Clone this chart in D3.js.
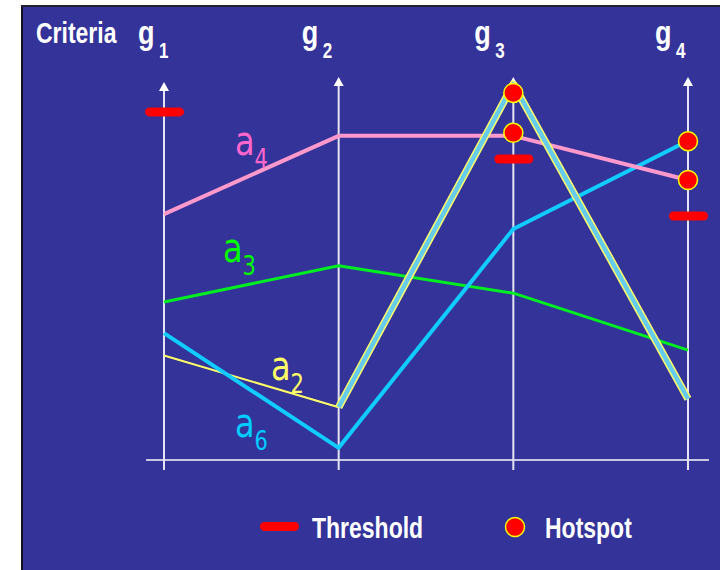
<!DOCTYPE html>
<html>
<head>
<meta charset="utf-8">
<script src="https://cdn.jsdelivr.net/npm/d3@7"></script>
<style>
  html, body { margin: 0; padding: 0; background: #ffffff; }
  svg { display: block; }
</style>
</head>
<body>
<svg id="chart" width="720" height="570"></svg>
<script>
// Criteria (axes) and their subscripts
const criteria = ["g1", "g2", "g3", "g4"];
const criteriaSub = ["1", "2", "3", "4"];

// Scores of each alternative on every criterion (0–100 scale)
const a4 = [64.7, 85.3, 85.3, 73.7];
const a3 = [41.6, 51.1, 43.9, 28.9];
const a2 = [27.5, 13.9, 98.9, 16.1];
const a6 = [33.4, 3.2, 60.8, 84.0];

// Threshold per criterion (null = none)
const thresholds = [91.6, null, 79.2, 64.2];

// Hotspots: criterion and score
const hotspotCrit = ["g3", "g3", "g4", "g4"];
const hotspotVal = [96.6, 86.1, 83.9, 73.7];

const W = 720, H = 570;
const svg = d3.select("#chart");

// panel
svg.append("rect").attr("x", 21).attr("y", 5).attr("width", W - 21).attr("height", H - 5)
  .attr("fill", "#333399");
svg.append("line").attr("x1", 22).attr("x2", 22).attr("y1", 5).attr("y2", H)
  .attr("stroke", "#111122").attr("stroke-width", 2);
svg.append("line").attr("x1", 21).attr("x2", W).attr("y1", 6).attr("y2", 6)
  .attr("stroke", "#222233").attr("stroke-width", 2);

const x = d3.scalePoint().domain(criteria).range([164, 688]);
const y = d3.scaleLinear().domain([0, 100]).range([460, 80]);

// text helper: vertically stretched lettering
function label(g, px, py) {
  return g.append("text").attr("transform", `translate(${px},${py}) scale(1,1.25)`);
}

// Axes: baseline and vertical arrows
const axes = svg.append("g");
axes.append("line")
  .attr("x1", x("g1") - 18).attr("x2", x("g4") + 21)
  .attr("y1", y(0)).attr("y2", y(0))
  .attr("stroke", "#c8c8e0").attr("stroke-width", 2);
axes.selectAll("line.ax").data(criteria).join("line").attr("class", "ax")
  .attr("x1", d => x(d)).attr("x2", d => x(d))
  .attr("y1", (d, i) => (i === 0 ? 90 : 85)).attr("y2", y(0) + 10)
  .attr("stroke", "#e4e4f4").attr("stroke-width", 2);
axes.selectAll("path.arrow").data(criteria).join("path").attr("class", "arrow")
  .attr("d", (d, i) => {
    const tip = i === 0 ? 82 : 77, cx = x(d);
    return `M${cx},${tip} L${cx - 5},${tip + 9} L${cx + 5},${tip + 9} Z`;
  })
  .attr("fill", "#ffffff");

// Header labels
const head = svg.append("g").attr("fill", "#ffffff").attr("font-family", "Liberation Sans, Arial, sans-serif")
  .attr("font-weight", "bold");
label(head, 36, 43).attr("font-size", 23).text("Criteria");
const headNudge = [-26, -37, -39, -33];
criteria.forEach((c, i) => {
  label(head, x(c) + headNudge[i], 44).attr("font-size", 27).text("g");
  label(head, x(c) + headNudge[i] + 21, 58).attr("font-size", 17).text(criteriaSub[i]);
});

// Series lines
const line = d3.line().x(d => x(d.c)).y(d => y(d.v));
const pts = arr => arr.map((v, i) => ({ c: criteria[i], v }));
const lines = svg.append("g").attr("fill", "none").attr("stroke-linejoin", "round");

lines.append("path").datum(pts(a3)).attr("d", line)
  .attr("stroke", "#00ee22").attr("stroke-width", 3);
lines.append("path").datum(pts(a2).slice(0, 2)).attr("d", line)
  .attr("stroke", "#ffff66").attr("stroke-width", 2);
lines.append("path").datum(pts(a6)).attr("d", line)
  .attr("stroke", "#11ccff").attr("stroke-width", 4);
lines.append("path").datum(pts(a4)).attr("d", line)
  .attr("stroke", "#ff99cc").attr("stroke-width", 4);
// a2 beyond g2: outlined stroke
lines.append("path").datum(pts(a2).slice(1)).attr("d", line)
  .attr("stroke", "#ffff66").attr("stroke-width", 7.5);
lines.append("path").datum(pts(a2).slice(1)).attr("d", line)
  .attr("stroke", "#66ccee").attr("stroke-width", 4.5);

// Series labels
const lab = svg.append("g").attr("font-family", "DejaVu Sans, Verdana, sans-serif");
function seriesLabel(px, py, sub, color) {
  const t = label(lab, px, py).attr("fill", color).attr("font-size", 32);
  t.append("tspan").text("a");
  t.append("tspan").attr("font-size", 21).attr("dy", 10).text(sub);
}
seriesLabel(235, 155, "4", "#ff66cc");
seriesLabel(223, 262, "3", "#00ff00");
seriesLabel(271, 380, "2", "#ffff66");
seriesLabel(235, 437, "6", "#00ccff");

// Thresholds
const thr = thresholds.map((v, i) => ({ c: criteria[i], v })).filter(d => d.v !== null);
svg.append("g").selectAll("rect").data(thr).join("rect")
  .attr("x", d => x(d.c) - 19).attr("y", d => y(d.v) - 4.5)
  .attr("width", 39).attr("height", 9).attr("rx", 4.5)
  .attr("fill", "#ff0000");

// Hotspots
svg.append("g").selectAll("circle").data(hotspotCrit.map((c, i) => ({ c, v: hotspotVal[i] })))
  .join("circle")
  .attr("cx", d => x(d.c)).attr("cy", d => y(d.v)).attr("r", 9.5)
  .attr("fill", "#ff0000").attr("stroke", "#ffff00").attr("stroke-width", 1.5);

// Legend
const leg = svg.append("g");
leg.append("rect").attr("x", 260).attr("y", 522).attr("width", 39).attr("height", 9).attr("rx", 4.5)
  .attr("fill", "#ff0000");
leg.append("circle").attr("cx", 515).attr("cy", 527).attr("r", 9.5)
  .attr("fill", "#ff0000").attr("stroke", "#ffff00").attr("stroke-width", 1.5);
const legText = leg.append("g").attr("fill", "#ffffff").attr("font-weight", "bold")
  .attr("font-family", "Liberation Sans, Arial, sans-serif");
label(legText, 312, 538).attr("font-size", 23).text("Threshold");
label(legText, 545, 538).attr("font-size", 23).text("Hotspot");
</script>
</body>
</html>
